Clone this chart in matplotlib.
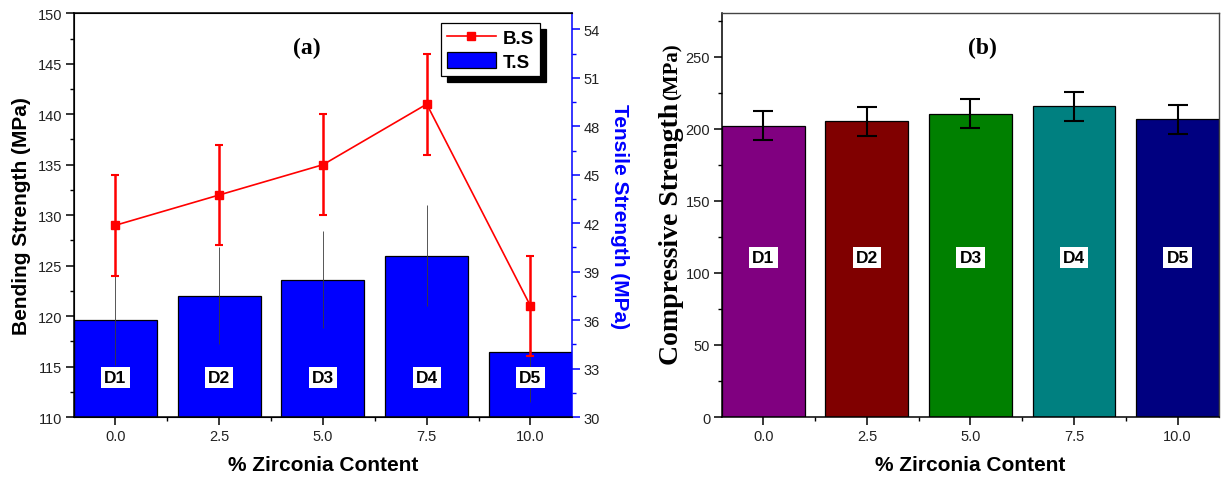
import numpy as np
import matplotlib.pyplot as plt
from matplotlib.ticker import MultipleLocator

plt.rcParams['font.family'] = 'Liberation Sans'

zirconia = ['0.0', '2.5', '5.0', '7.5', '10.0']
samples = ['D1', 'D2', 'D3', 'D4', 'D5']

# bending strength (MPa) with spread
bending = [129, 132, 135, 141, 121]
bending_err = [5, 5, 5, 5, 5]

# tensile strength (MPa) with spread
tensile = [36.0, 37.5, 38.5, 40.0, 34.0]
tensile_err = [2.8, 3.0, 3.0, 3.1, 3.1]

# compressive strength (MPa) with spread
compressive = [202, 205, 210.5, 215.5, 206.5]
compressive_err = [10, 10, 10, 10, 10]
comp_colors = ['#800080', '#800000', '#008000', '#008080', '#000080']

x = np.arange(len(zirconia))


def style_ticks(ax):
    ax.tick_params(which='major', direction='out', length=5.5, width=1.1,
                   labelsize=10.5, pad=3, labelcolor='#222222')
    ax.tick_params(which='minor', direction='out', length=3, width=1.0)
    ax.tick_params(top=False, which='both')
    ax.set_xticks(x, zirconia)
    ax.set_xticks(x[:-1] + 0.5, minor=True)
    ax.set_xlim(-0.4, 4.4)


def tag(ax, xs, y):
    for xi, s in zip(xs, samples):
        ax.text(xi, y, s, ha='center', va='center', fontsize=12.5,
                fontweight='bold', zorder=6,
                bbox=dict(boxstyle='square,pad=0.18', fc='white', ec='none'))


fig = plt.figure(figsize=(12.23, 4.85), dpi=100)

# ---- (a) bending + tensile ----
axA = fig.add_axes([0.0605, 0.1381, 0.4072, 0.8324])
axT = axA.twinx()

bars = axT.bar(x, tensile, width=0.8, color='#0000ff', edgecolor='black',
               linewidth=0.9, zorder=2, label='T.S')
axT.errorbar(x, tensile, yerr=tensile_err, fmt='none', ecolor='#3a3a3a',
             elinewidth=0.6, capsize=0, zorder=3)
axT.set_ylim(30, 55)
axT.yaxis.set_major_locator(MultipleLocator(3))
axT.yaxis.set_minor_locator(MultipleLocator(1.5))
axT.tick_params(axis='y', which='major', direction='out', length=5.5,
                width=1.1, colors='blue', labelcolor='#222222',
                labelsize=10.5, pad=3)
axT.tick_params(axis='y', which='minor', direction='out', length=3,
                width=1.0, colors='blue')
axT.spines['right'].set_color('blue')
axT.spines['right'].set_linewidth(1.1)
axT.set_ylabel('Tensile Strength (MPa)', color='blue', rotation=270,
               va='bottom', fontsize=15, fontweight='bold', labelpad=7)

axA.set_zorder(axT.get_zorder() + 1)
axA.patch.set_visible(False)
axA.errorbar(x, bending, yerr=bending_err, fmt='none', ecolor='red',
             elinewidth=1.8, capsize=3, capthick=1.5, zorder=4)
line, = axA.plot(x, bending, '-s', color='red', lw=1.2, ms=5.5, zorder=5,
                 label='B.S')
axA.set_ylim(110, 150)
axA.yaxis.set_major_locator(MultipleLocator(5))
axA.yaxis.set_minor_locator(MultipleLocator(2.5))
style_ticks(axA)
axA.spines['right'].set_visible(False)
for s in ['left', 'bottom', 'top']:
    axA.spines[s].set_linewidth(1.1)
axA.set_ylabel('Bending Strength (MPa)', fontsize=15, fontweight='bold',
               labelpad=5)
axA.set_xlabel('% Zirconia Content', fontsize=15, fontweight='bold',
               labelpad=9)
axA.text(0.468, 0.915, '(a)', transform=axA.transAxes, ha='center',
         va='center', fontsize=17, fontweight='bold',
         family='Liberation Serif')
tag(axA, x, 113.9)

leg = axA.legend([line, bars], ['B.S', 'T.S'], loc='upper right',
                 bbox_to_anchor=(0.936, 0.976), borderaxespad=0,
                 fancybox=False, edgecolor='black', framealpha=1,
                 prop={'weight': 'bold', 'size': 13.5}, handlelength=2.6,
                 handleheight=0.9, borderpad=0.3, labelspacing=0.3,
                 handletextpad=0.4,
                 shadow={'ox': 4, 'oy': -4, 'color': 'black', 'alpha': 1})
leg.get_frame().set_linewidth(0.9)

# ---- (b) compressive ----
axB = fig.add_axes([0.5903, 0.1381, 0.4064, 0.8324])
axB.bar(x, compressive, width=0.8, color=comp_colors, edgecolor='black',
        linewidth=0.9, zorder=2)
axB.errorbar(x, compressive, yerr=compressive_err, fmt='none',
             ecolor='black', elinewidth=1.5, capsize=7, capthick=1.5,
             zorder=3)
axB.set_ylim(0, 280)
axB.yaxis.set_major_locator(MultipleLocator(50))
axB.yaxis.set_minor_locator(MultipleLocator(25))
style_ticks(axB)
axB.tick_params(right=False, which='both')
for s in ['left', 'bottom']:
    axB.spines[s].set_linewidth(1.1)
for s in ['top', 'right']:
    axB.spines[s].set_color('#444444')
    axB.spines[s].set_linewidth(1.0)
axB.set_xlabel('% Zirconia Content', fontsize=15, fontweight='bold',
               labelpad=9)
axB.text(0.525, 0.915, '(b)', transform=axB.transAxes, ha='center',
         va='center', fontsize=17, fontweight='bold',
         family='Liberation Serif')
tag(axB, x, 110.5)

# y label in two sizes: the unit is set smaller than the quantity
label_x = 0.5544
main = fig.text(label_x, 0.247, 'Compressive Strength', rotation=90,
                rotation_mode='anchor', ha='left', va='baseline',
                fontsize=20, fontweight='bold', family='Liberation Serif')
fig.canvas.draw()
top_px = main.get_window_extent().y1
fig.text(label_x, (top_px + 3) / fig.bbox.height, '(MPa)', rotation=90,
         rotation_mode='anchor', ha='left', va='baseline', fontsize=15,
         fontweight='bold', family='Liberation Serif')

fig.savefig('out.png', dpi=100)
